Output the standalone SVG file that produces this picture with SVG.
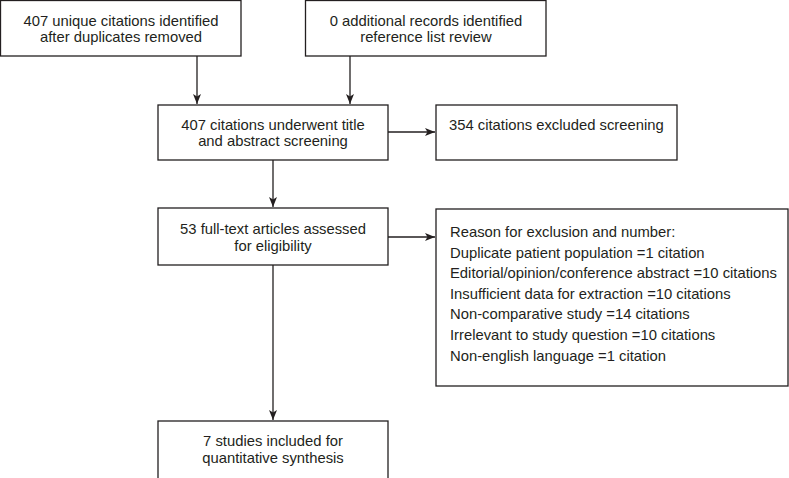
<svg xmlns="http://www.w3.org/2000/svg" width="789" height="478" viewBox="0 0 789 478">
<style>
.box{fill:#fff;stroke:#231f20;stroke-width:1.3}
.t{font-family:"Liberation Sans",Arial,sans-serif;font-size:14.8px;fill:#231f20}
.c{text-anchor:middle}
.ln{stroke:#231f20;stroke-width:1.3;fill:none}
</style>
<defs>
<marker id="ah" viewBox="0 0 10 8" refX="10" refY="4" markerWidth="10" markerHeight="8" markerUnits="userSpaceOnUse" orient="auto">
<path d="M0,0 L10,4 L0,8 L2.5,4 Z" fill="#231f20"/>
</marker>
</defs>
<rect width="789" height="478" fill="#fff"/>
<g id="connectors">
<line class="ln" x1="197" y1="56" x2="197" y2="104" marker-end="url(#ah)"/>
<line class="ln" x1="350" y1="56" x2="350" y2="104" marker-end="url(#ah)"/>
<line class="ln" x1="388" y1="132" x2="435" y2="132" marker-end="url(#ah)"/>
<line class="ln" x1="273" y1="160" x2="273" y2="207" marker-end="url(#ah)"/>
<line class="ln" x1="388" y1="237" x2="435" y2="237" marker-end="url(#ah)"/>
<line class="ln" x1="273" y1="265" x2="273" y2="420" marker-end="url(#ah)"/>
</g>
<g id="n1">
<rect class="box" x="0.5" y="0.5" width="240.5" height="55.5"/>
<text class="t c" x="121" y="26">407 unique citations identified</text>
<text class="t c" x="121" y="42">after duplicates removed</text>
</g>
<g id="n2">
<rect class="box" x="305.5" y="0.5" width="240.5" height="55.5"/>
<text class="t c" x="426" y="26">0 additional records identified</text>
<text class="t c" x="426" y="42">reference list review</text>
</g>
<g id="n3">
<rect class="box" x="158" y="105" width="230" height="55"/>
<text class="t c" x="273" y="130">407 citations underwent title</text>
<text class="t c" x="273" y="146">and abstract screening</text>
</g>
<g id="n4">
<rect class="box" x="436" y="105" width="241" height="55"/>
<text class="t" x="449" y="130">354 citations excluded screening</text>
</g>
<g id="n5">
<rect class="box" x="158" y="208" width="230" height="57"/>
<text class="t c" x="273" y="234">53 full-text articles assessed</text>
<text class="t c" x="273" y="251">for eligibility</text>
</g>
<g id="n6">
<rect class="box" x="436" y="209" width="352" height="177"/>
<text class="t" x="450" y="237">Reason for exclusion and number:</text>
<text class="t" x="450" y="257.6">Duplicate patient population =1 citation</text>
<text class="t" x="450" y="278.2">Editorial/opinion/conference abstract =10 citations</text>
<text class="t" x="450" y="298.8">Insufficient data for extraction =10 citations</text>
<text class="t" x="450" y="319.4">Non-comparative study =14 citations</text>
<text class="t" x="450" y="340">Irrelevant to study question =10 citations</text>
<text class="t" x="450" y="360.6">Non-english language =1 citation</text>
</g>
<g id="n7">
<rect class="box" x="158" y="421" width="230" height="60"/>
<text class="t c" x="273" y="446">7 studies included for</text>
<text class="t c" x="273" y="463">quantitative synthesis</text>
</g>
</svg>
